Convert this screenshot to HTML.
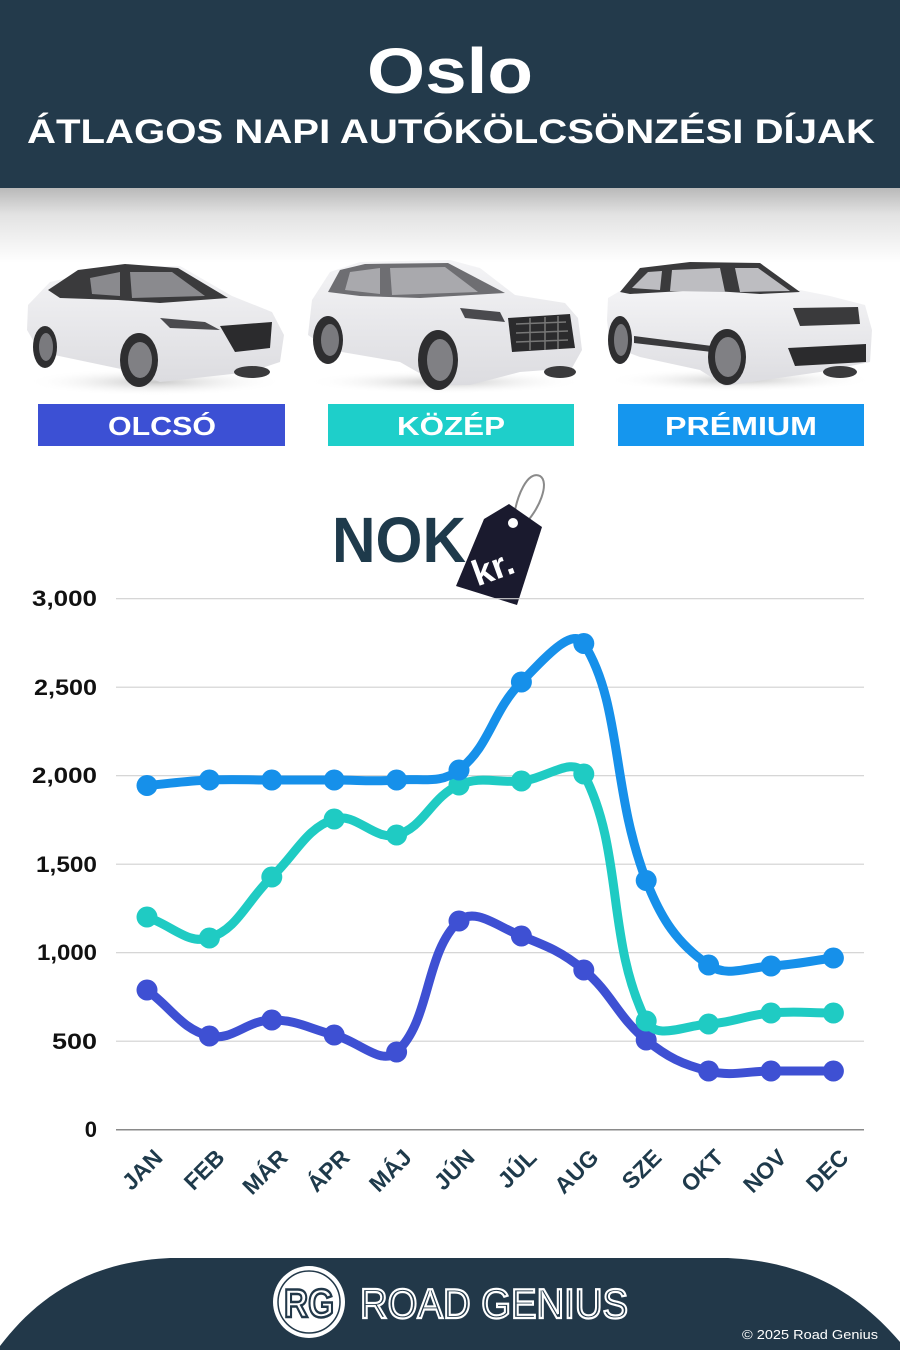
<!DOCTYPE html>
<html><head><meta charset="utf-8"><style>
html,body{margin:0;padding:0;background:#fff;}
svg{display:block;}
text{font-family:"Liberation Sans",sans-serif;}
</style></head><body>
<svg width="900" height="1350" viewBox="0 0 900 1350" xmlns="http://www.w3.org/2000/svg">
<defs>
<linearGradient id="shadow" x1="0" y1="0" x2="0" y2="1">
<stop offset="0" stop-color="#b9b9b9"/><stop offset="0.35" stop-color="#e2e2e2"/><stop offset="1" stop-color="#ffffff"/>
</linearGradient>
<linearGradient id="body" x1="0" y1="0" x2="0" y2="1">
<stop offset="0" stop-color="#f4f4f6"/><stop offset="1" stop-color="#dcdce0"/>
</linearGradient>
<radialGradient id="gshadow" cx="0.5" cy="0.5" r="0.5">
<stop offset="0" stop-color="#c8c8c8"/><stop offset="1" stop-color="#ffffff" stop-opacity="0"/>
</radialGradient>
</defs>
<rect x="0" y="0" width="900" height="1350" fill="#fff"/>
<!-- header -->
<rect x="0" y="0" width="900" height="188" fill="#233a4b"/>
<rect x="0" y="188" width="900" height="75" fill="url(#shadow)"/>
<text x="450" y="93" text-anchor="middle" font-size="64" font-weight="bold" fill="#fff" textLength="166" lengthAdjust="spacingAndGlyphs">Oslo</text>
<text x="451" y="143" text-anchor="middle" font-size="34" font-weight="bold" fill="#fff" textLength="848" lengthAdjust="spacingAndGlyphs">ÁTLAGOS NAPI AUTÓKÖLCSÖNZÉSI DÍJAK</text>

<!-- car 1 -->
<ellipse cx="155" cy="382" rx="130" ry="14" fill="url(#gshadow)"/>
<path d="M28,305 L50,282 L120,266 L180,266 L232,296 L272,312 L284,335 L280,362 L250,372 L160,382 L135,372 L40,352 L27,330 Z" fill="url(#body)"/>
<path d="M48,290 L78,270 L125,264 L178,268 L228,298 L160,303 L118,300 L60,298 Z" fill="#3a3a3c"/>
<path d="M90,278 L120,272 L120,296 L92,294 Z M130,272 L172,272 L205,296 L132,298 Z" fill="#8a8a8e"/>
<path d="M220,326 L272,322 L270,348 L235,352 Z" fill="#2b2b2d"/>
<path d="M160,318 L205,322 L220,330 L170,328 Z" fill="#4a4a4e"/>
<ellipse cx="45" cy="347" rx="12" ry="21" fill="#2e2e30"/><ellipse cx="46" cy="347" rx="7" ry="14" fill="#7a7a7e"/>
<ellipse cx="139" cy="360" rx="19" ry="27" fill="#2e2e30"/><ellipse cx="140" cy="360" rx="12" ry="18" fill="#808084"/>
<ellipse cx="252" cy="372" rx="18" ry="6" fill="#3a3a3c"/>

<!-- car 2 -->
<ellipse cx="445" cy="382" rx="140" ry="12" fill="url(#gshadow)"/>
<path d="M312,300 L330,272 L360,262 L450,260 L480,268 L515,295 L565,303 L578,318 L582,350 L572,368 L520,372 L470,385 L440,385 L400,362 L330,350 L308,335 Z" fill="url(#body)"/>
<path d="M328,292 L340,270 L365,264 L448,263 L505,293 L420,298 L360,296 Z" fill="#6e6e72"/>
<path d="M345,290 L350,272 L380,268 L380,294 Z M390,268 L445,267 L478,292 L392,295 Z" fill="#a9a9ad"/>
<path d="M508,318 L570,314 L575,348 L512,352 Z" fill="#2b2b2d"/>
<path d="M516,324 L566,322 M516,333 L568,331 M516,342 L568,340 M530,318 L530,350 M545,317 L545,350 M558,316 L558,349" stroke="#777" stroke-width="1.5"/>
<path d="M460,308 L500,312 L505,322 L465,318 Z" fill="#4a4a4e"/>
<ellipse cx="328" cy="340" rx="15" ry="24" fill="#2e2e30"/><ellipse cx="330" cy="340" rx="9" ry="16" fill="#7a7a7e"/>
<ellipse cx="438" cy="360" rx="20" ry="30" fill="#2e2e30"/><ellipse cx="440" cy="360" rx="13" ry="21" fill="#808084"/>
<ellipse cx="560" cy="372" rx="16" ry="6" fill="#3a3a3c"/>

<!-- car 3 -->
<ellipse cx="740" cy="380" rx="135" ry="12" fill="url(#gshadow)"/>
<path d="M608,298 L625,288 L800,290 L830,296 L865,305 L872,330 L870,362 L820,372 L765,380 L725,386 L700,370 L640,357 L610,346 L607,320 Z" fill="url(#body)"/>
<path d="M620,292 L640,268 L690,262 L760,263 L800,292 L760,294 L700,290 L630,294 Z" fill="#3a3a3c"/>
<path d="M632,288 L648,272 L662,271 L660,290 Z M672,270 L720,268 L725,292 L670,291 Z M735,268 L758,268 L790,291 L740,292 Z" fill="#bdbdc1"/>
<path d="M793,308 L858,307 L860,324 L800,326 Z" fill="#3a3a3c"/>
<path d="M788,348 L866,344 L866,362 L795,366 Z" fill="#2b2b2d"/>
<path d="M634,336 L712,346 L712,352 L634,343 Z" fill="#3a3a3c"/>
<ellipse cx="620" cy="340" rx="12" ry="24" fill="#2e2e30"/><ellipse cx="621" cy="340" rx="7" ry="16" fill="#7a7a7e"/>
<ellipse cx="727" cy="357" rx="19" ry="28" fill="#2e2e30"/><ellipse cx="728" cy="357" rx="13" ry="20" fill="#808084"/>
<ellipse cx="840" cy="372" rx="17" ry="6" fill="#3a3a3c"/>

<!-- category boxes -->
<rect x="38" y="404" width="247" height="42" fill="#3c50d4"/>
<rect x="328" y="404" width="246" height="42" fill="#1ecfca"/>
<rect x="618" y="404" width="246" height="42" fill="#1596ee"/>
<text x="162" y="435" text-anchor="middle" font-size="26" font-weight="bold" fill="#fff" textLength="108" lengthAdjust="spacingAndGlyphs">OLCSÓ</text>
<text x="451" y="435" text-anchor="middle" font-size="26" font-weight="bold" fill="#fff" textLength="108" lengthAdjust="spacingAndGlyphs">KÖZÉP</text>
<text x="741" y="435" text-anchor="middle" font-size="26" font-weight="bold" fill="#fff" textLength="152" lengthAdjust="spacingAndGlyphs">PRÉMIUM</text>

<!-- NOK + tag -->
<text x="332" y="562" font-size="64" font-weight="bold" fill="#1e3a4b" textLength="134" lengthAdjust="spacingAndGlyphs">NOK</text>
<path d="M513,523 C516,495 528,470 540,476 C550,482 540,510 522,527" fill="none" stroke="#8a8a8a" stroke-width="2"/>
<path d="M484,519 L509,504 L542,527 L517,605 L456,586 Z" fill="#1a1a2e"/>
<circle cx="513" cy="523" r="5" fill="#fff"/>
<text x="493" y="580" text-anchor="middle" font-size="36" font-weight="bold" fill="#fff" transform="rotate(-20 493 568)">kr.</text>

<!-- grid -->
<g stroke="#d0d0d0" stroke-width="1.2">
<line x1="116" y1="598.7" x2="864" y2="598.7"/>
<line x1="116" y1="687.2" x2="864" y2="687.2"/>
<line x1="116" y1="775.7" x2="864" y2="775.7"/>
<line x1="116" y1="864.2" x2="864" y2="864.2"/>
<line x1="116" y1="952.7" x2="864" y2="952.7"/>
<line x1="116" y1="1041.2" x2="864" y2="1041.2"/>
</g>
<line x1="116" y1="1129.7" x2="864" y2="1129.7" stroke="#8a8a8a" stroke-width="1.5"/>
<g font-size="22" font-weight="bold" fill="#111" text-anchor="end">
<text x="97" y="606" textLength="65" lengthAdjust="spacingAndGlyphs">3,000</text>
<text x="97" y="695" textLength="63" lengthAdjust="spacingAndGlyphs">2,500</text>
<text x="97" y="783" textLength="65" lengthAdjust="spacingAndGlyphs">2,000</text>
<text x="97" y="872" textLength="61" lengthAdjust="spacingAndGlyphs">1,500</text>
<text x="97" y="960" textLength="60" lengthAdjust="spacingAndGlyphs">1,000</text>
<text x="97" y="1049" textLength="45" lengthAdjust="spacingAndGlyphs">500</text>
<text x="97" y="1137">0</text>
</g>

<!-- x labels -->
<g font-size="23" font-weight="bold" fill="#1e3a4b" text-anchor="end">
<text transform="translate(164,1159) rotate(-45)">JAN</text>
<text transform="translate(226,1159) rotate(-45)">FEB</text>
<text transform="translate(289,1159) rotate(-45)">MÁR</text>
<text transform="translate(351,1159) rotate(-45)">ÁPR</text>
<text transform="translate(413,1159) rotate(-45)">MÁJ</text>
<text transform="translate(476,1159) rotate(-45)">JÚN</text>
<text transform="translate(538,1159) rotate(-45)">JÚL</text>
<text transform="translate(600,1159) rotate(-45)">AUG</text>
<text transform="translate(663,1159) rotate(-45)">SZE</text>
<text transform="translate(725,1159) rotate(-45)">OKT</text>
<text transform="translate(788,1159) rotate(-45)">NOV</text>
<text transform="translate(850,1159) rotate(-45)">DEC</text>
</g>

<!-- series -->
<g id="series"></g>

<!-- footer -->
<path d="M0,1350 L0,1346 C35,1300 85,1262 170,1258 L728,1258 C812,1262 862,1298 900,1342 L900,1350 Z" fill="#223849"/>
<circle cx="309" cy="1302" r="36" fill="#fff"/>
<circle cx="309" cy="1302" r="31" fill="none" stroke="#223849" stroke-width="1.5"/>
<text x="309" y="1317" text-anchor="middle" font-size="40" font-weight="bold" fill="#fff" stroke="#223849" stroke-width="2.5" textLength="50" lengthAdjust="spacingAndGlyphs">RG</text>
<text x="360" y="1318" font-size="42" fill="none" stroke="#fff" stroke-width="2.2" textLength="268" lengthAdjust="spacingAndGlyphs">ROAD GENIUS</text>
<text x="878" y="1339" text-anchor="end" font-size="13" fill="#fff" textLength="136" lengthAdjust="spacingAndGlyphs">© 2025 Road Genius</text>
</svg>
<script>
(function(){
var xs=[];for(var i=0;i<12;i++)xs.push(147+i*62.4);
var data=[
 {c:"#3e50d3",y:[990,1036,1020,1035,1052,921,936,970,1040,1071,1071,1071]},
 {c:"#1fcbc3",y:[917,938,877,819,835,785,781,774,1021,1024,1013,1013]},
 {c:"#1690ea",y:[785.5,780,780,780,780,770,682,643.5,880.5,965,966,958]}
];
function spline(p,t){
 var n=p.length,cps=[];
 for(var i=0;i<n;i++){
  var pr=p[Math.max(i-1,0)],c=p[i],nx=p[Math.min(i+1,n-1)];
  var d01=Math.hypot(c[0]-pr[0],c[1]-pr[1]),d12=Math.hypot(nx[0]-c[0],nx[1]-c[1]);
  var s01=d01/(d01+d12),s12=d12/(d01+d12);
  if(!isFinite(s01))s01=0;if(!isFinite(s12))s12=0;
  var fa=t*s01,fb=t*s12;
  cps.push({px:c[0]-fa*(nx[0]-pr[0]),py:c[1]-fa*(nx[1]-pr[1]),nx:c[0]+fb*(nx[0]-pr[0]),ny:c[1]+fb*(nx[1]-pr[1])});
 }
 var d="M"+p[0][0]+","+p[0][1];
 for(var i=1;i<n;i++)d+=" C"+cps[i-1].nx+","+cps[i-1].ny+" "+cps[i].px+","+cps[i].py+" "+p[i][0]+","+p[i][1];
 return d;
}
var g=document.getElementById("series"),ns="http://www.w3.org/2000/svg";
data.forEach(function(s){
 var pts=s.y.map(function(y,i){return [xs[i],y];});
 var path=document.createElementNS(ns,"path");
 path.setAttribute("d",spline(pts,0.4));
 path.setAttribute("fill","none");path.setAttribute("stroke",s.c);
 path.setAttribute("stroke-width","9");path.setAttribute("stroke-linecap","round");path.setAttribute("stroke-linejoin","round");
 g.appendChild(path);
 pts.forEach(function(p){
  var c=document.createElementNS(ns,"circle");
  c.setAttribute("cx",p[0]);c.setAttribute("cy",p[1]);c.setAttribute("r","10.5");c.setAttribute("fill",s.c);
  g.appendChild(c);
 });
});
})();
</script>
</body></html>
